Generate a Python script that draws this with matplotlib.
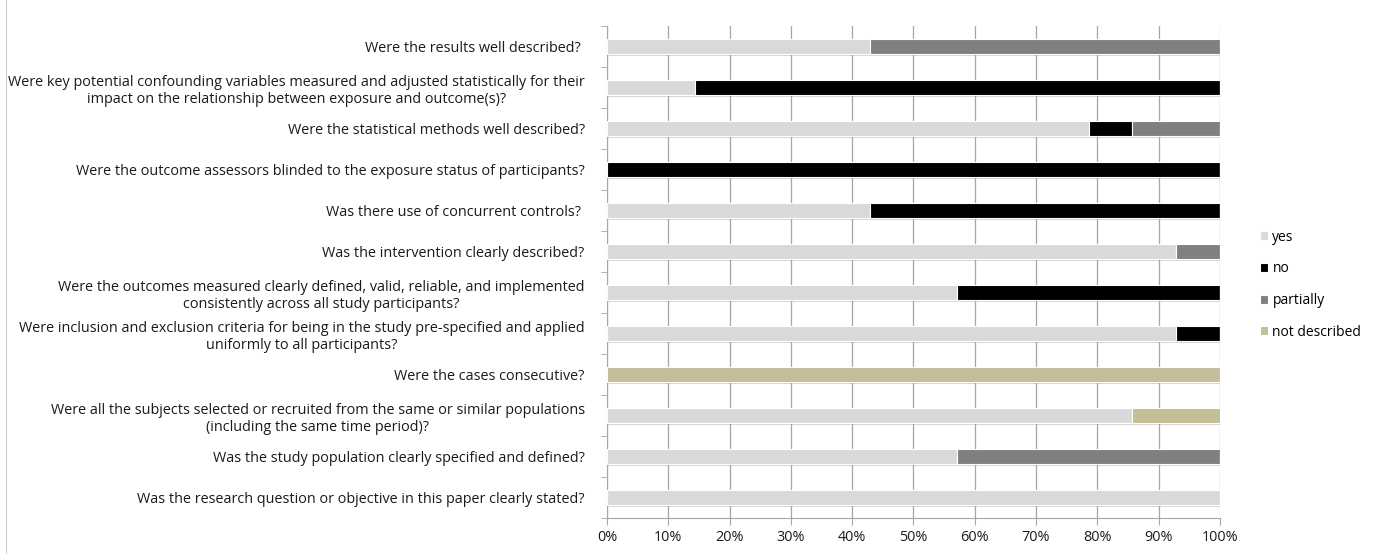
import numpy as np
import matplotlib.pyplot as plt
import matplotlib.patheffects as pe
from matplotlib.ticker import MultipleLocator, PercentFormatter

# Questions, bottom to top
questions = [
    "Was the research question or objective in this paper clearly stated?",
    "Was the study population clearly specified and defined?",
    "Were all the subjects selected or recruited from the same or similar populations\n(including the same time period)?",
    "Were the cases consecutive?",
    "Were inclusion and exclusion criteria for being in the study pre-specified and applied\nuniformly to all participants?",
    "Were the outcomes measured clearly defined, valid, reliable, and implemented\nconsistently across all study participants?",
    "Was the intervention clearly described?",
    "Was there use of concurrent controls? ",
    "Were the outcome assessors blinded to the exposure status of participants?",
    "Were the statistical methods well described?",
    "Were key potential confounding variables measured and adjusted statistically for their\nimpact on the relationship between exposure and outcome(s)?",
    "Were the results well described? ",
]

# share of studies (%) per answer
yes = [100.0, 57.1, 85.7, 0.0, 92.9, 57.1, 92.9, 42.9, 0.0, 78.6, 14.3, 42.9]
no = [0.0, 0.0, 0.0, 0.0, 7.1, 42.9, 0.0, 57.1, 100.0, 7.1, 85.7, 0.0]
partially = [0.0, 42.9, 0.0, 0.0, 0.0, 0.0, 7.1, 0.0, 0.0, 14.3, 0.0, 57.1]
not_described = [0.0, 0.0, 14.3, 100.0, 0.0, 0.0, 0.0, 0.0, 0.0, 0.0, 0.0, 0.0]

series = [("yes", yes, "#d9d9d9"),
          ("no", no, "#000000"),
          ("partially", partially, "#808080"),
          ("not described", not_described, "#c4bd97")]

plt.rcParams['font.family'] = ['Open Sans', 'DejaVu Sans']
fs = 10.4
fig = plt.figure(figsize=(13.87, 5.54), dpi=100)
ax = fig.add_axes([0.4376, 0.065, 0.4420, 0.888])

y = np.arange(len(questions))
left = np.zeros(len(questions))
shadow = [pe.SimplePatchShadow(offset=(0.8, -1.5), shadow_rgbFace='#888888', alpha=0.35), pe.Normal()]
for name, vals, color in series:
    vals = np.array(vals)
    bars = ax.barh(y, vals, left=left, height=0.37, color=color, edgecolor='white',
                   linewidth=0.8, label=name, zorder=3)
    for b in bars:
        b.set_path_effects(shadow)
    left += vals

ax.set_xlim(0, 100)
ax.set_ylim(-0.5, len(questions) - 0.5)
ax.xaxis.set_major_locator(MultipleLocator(10))
ax.xaxis.set_major_formatter(PercentFormatter(decimals=0))
ax.grid(axis='x', color='#a6a6a6', linewidth=0.9, zorder=0)
ax.set_axisbelow(True)

ax.set_yticks(y)
ax.set_yticklabels(questions, fontsize=fs, multialignment='center', color='#1a1a1a')
ax.set_yticks(np.arange(len(questions) + 1) - 0.5, minor=True)
ax.tick_params(axis='y', which='major', length=0, pad=16)
ax.tick_params(axis='y', which='minor', length=4, color='#a6a6a6')
ax.tick_params(axis='x', length=5, color='#a6a6a6', labelsize=fs, labelcolor='#1a1a1a', pad=4)

for side in ['top', 'right']:
    ax.spines[side].set_visible(False)
for side in ['left', 'bottom']:
    ax.spines[side].set_color('#a6a6a6')

leg = ax.legend(loc='center left', bbox_to_anchor=(1.056, 0.474), frameon=False,
                fontsize=10, handlelength=0.6, handleheight=0.6, handletextpad=0.3,
                labelspacing=1.2, borderaxespad=0.0)
for h in leg.legend_handles:
    h.set_path_effects([])

# thin border line at the far left
fig.add_artist(plt.Line2D([0.004, 0.004], [0.0, 1.0], color='#d0d0d0', linewidth=0.8))

fig.savefig('out.png', dpi=100)
